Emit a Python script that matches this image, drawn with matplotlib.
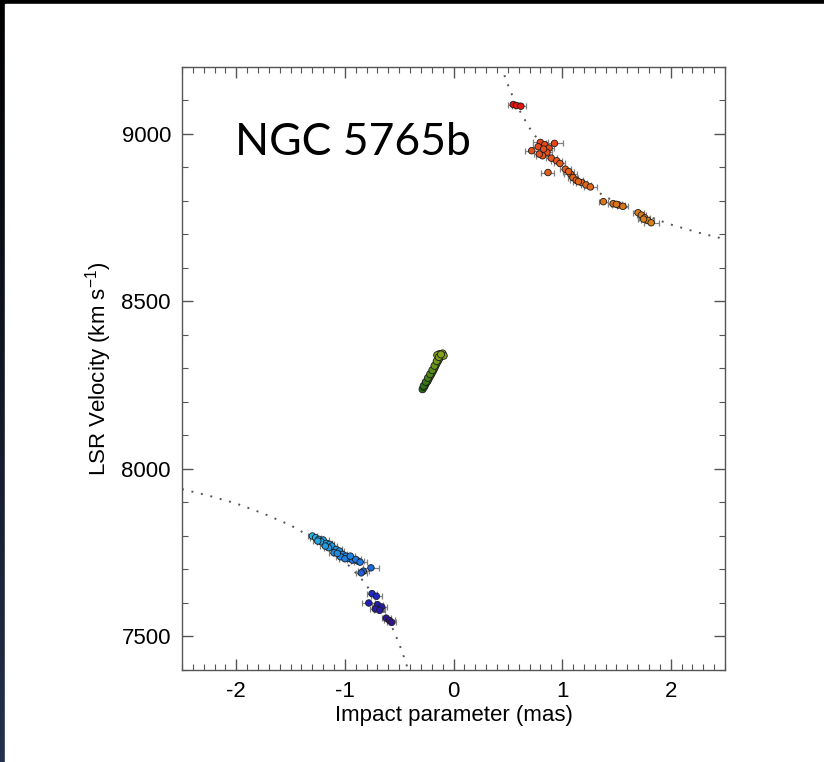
import matplotlib.pyplot as plt
import numpy as np
from matplotlib.colors import LinearSegmentedColormap, Normalize
from matplotlib.patches import Rectangle
from matplotlib.ticker import MultipleLocator

plt.rcParams['font.family'] = ['Liberation Sans', 'DejaVu Sans']
plt.rcParams['mathtext.default'] = 'regular'
plt.rcParams['axes.unicode_minus'] = False

# red-shifted high-velocity maser spots: impact parameter (mas), LSR velocity (km/s), x error (mas)
red_b = [0.55, 0.58, 0.62, 0.80, 0.84, 0.78, 0.88, 0.93, 0.72, 0.86, 0.82, 0.90, 0.95, 0.98,
         0.87, 1.03, 1.08, 1.10, 1.13, 1.18, 1.22, 1.26, 0.79, 0.83, 1.06, 1.15,
         1.38, 1.47, 1.52, 1.56, 1.70, 1.73, 1.76, 1.79, 1.82, 1.50, 1.75]
red_v = [9088, 9085, 9083, 8975, 8968, 8962, 8958, 8972, 8950, 8945, 8935, 8928, 8920, 8912,
         8885, 8895, 8880, 8870, 8862, 8855, 8848, 8842, 8940, 8955, 8888, 8858,
         8798, 8792, 8788, 8784, 8765, 8758, 8750, 8742, 8735, 8790, 8746]
red_err = [0.05, 0.04, 0.05, 0.07, 0.06, 0.05, 0.05, 0.08, 0.06, 0.05, 0.06, 0.05, 0.05, 0.05,
           0.06, 0.05, 0.06, 0.05, 0.06, 0.05, 0.05, 0.06, 0.05, 0.05, 0.05, 0.05,
           0.04, 0.05, 0.06, 0.05, 0.05, 0.04, 0.05, 0.06, 0.07, 0.05, 0.05]

# blue-shifted high-velocity maser spots
blue_b = [-1.30, -1.27, -1.24, -1.20, -1.22, -1.17, -1.14, -1.12, -1.15, -1.08, -1.05, -1.10,
          -1.02, -0.99, -1.04, -0.96, -0.93, -0.88, -0.90, -0.86, -1.25, -1.18, -1.07, -1.00, -0.95,
          -0.76, -0.83, -0.85,
          -0.75, -0.71, -0.78, -0.70, -0.66, -0.72, -0.62, -0.59, -0.57, -0.68]
blue_v = [7800, 7795, 7790, 7788, 7783, 7778, 7775, 7770, 7765, 7760, 7755, 7750,
          7745, 7740, 7738, 7733, 7728, 7725, 7730, 7722, 7785, 7770, 7748, 7732, 7740,
          7705, 7695, 7690,
          7628, 7620, 7600, 7595, 7588, 7582, 7555, 7548, 7542, 7578]
blue_err = [0.04, 0.05, 0.04, 0.05, 0.04, 0.05, 0.04, 0.05, 0.04, 0.05, 0.04, 0.05,
            0.04, 0.05, 0.04, 0.05, 0.05, 0.06, 0.05, 0.06, 0.04, 0.05, 0.04, 0.05, 0.04,
            0.07, 0.05, 0.05,
            0.05, 0.05, 0.06, 0.05, 0.05, 0.05, 0.04, 0.05, 0.04, 0.05]

# systemic maser spots
sys_b = [-0.285, -0.27, -0.26, -0.25, -0.24, -0.23, -0.22, -0.21, -0.20, -0.19, -0.18,
         -0.17, -0.16, -0.15, -0.14, -0.13, -0.12, -0.11, -0.10, -0.13, -0.15, -0.09,
         -0.275, -0.255, -0.235, -0.215, -0.195, -0.175, -0.155, -0.135, -0.115]
sys_v = [8238, 8245, 8252, 8258, 8262, 8268, 8275, 8280, 8286, 8292, 8298,
         8305, 8312, 8318, 8324, 8330, 8336, 8340, 8345, 8343, 8340, 8338,
         8248, 8260, 8272, 8283, 8295, 8308, 8322, 8334, 8342]

# dotted rotation curve
curve_left_b = [-2.5, -2.25, -2.0, -1.75, -1.5, -1.25, -1.0, -0.85, -0.75, -0.65, -0.55, -0.5, -0.45, -0.42, -0.40]
curve_left_v = [7940, 7920, 7897, 7867, 7832, 7785, 7724, 7673, 7630, 7580, 7517, 7478, 7433, 7403, 7380]
curve_right_b = [0.44, 0.47, 0.5, 0.55, 0.6, 0.7, 0.8, 0.9, 1.0, 1.25, 1.5, 1.75, 2.0, 2.25, 2.5]
curve_right_v = [9203, 9174, 9148, 9108, 9075, 9018, 8973, 8935, 8903, 8841, 8795, 8759, 8730, 8706, 8686]

vel_cmap = LinearSegmentedColormap.from_list('vel', [
    (0.00, '#3a0a7a'), (0.07, '#2020c0'), (0.13, '#1e6ee0'), (0.19, '#25b6e8'),
    (0.46, '#246c12'), (0.53, '#8aa81c'), (0.78, '#d98018'), (0.90, '#e8541a'),
    (1.00, '#e01010')])
norm = Normalize(7500, 9100)

fig = plt.figure(figsize=(8.24, 7.62), dpi=100)
fig.patch.set_facecolor('black')

# slide background: dark gradient with a white panel
bg = fig.add_axes([0, 0, 1, 1], zorder=-10)
grad = np.linspace(0, 1, 256).reshape(-1, 1)
bg.imshow(grad, aspect='auto', extent=[0, 1, 0, 1],
          cmap=LinearSegmentedColormap.from_list('bg', ['#24304c', '#000000']), origin='lower')
bg.add_patch(Rectangle((5 / 824, 0), 1, 1 - 4 / 762, color='white'))
bg.set_xlim(0, 1)
bg.set_ylim(0, 1)
bg.axis('off')

ax = fig.add_axes([182 / 824, 1 - 670 / 762, 543 / 824, 603 / 762])
ax.set_xlim(-2.5, 2.5)
ax.set_ylim(7400, 9200)

ax.plot(curve_left_b, curve_left_v, color='#555555', lw=1.4, linestyle=(0, (1, 4)), zorder=1)
ax.plot(curve_right_b, curve_right_v, color='#555555', lw=1.4, linestyle=(0, (1, 4)), zorder=1)

ax.errorbar(red_b, red_v, xerr=red_err, fmt='none', ecolor='#808080', elinewidth=0.9,
            capsize=2.5, capthick=0.9, zorder=2)
ax.errorbar(blue_b, blue_v, xerr=blue_err, fmt='none', ecolor='#808080', elinewidth=0.9,
            capsize=2.5, capthick=0.9, zorder=2)

for b, v, size in [(red_b, red_v, 22), (blue_b, blue_v, 22), (sys_b, sys_v, 26)]:
    ax.scatter(b, v, c=v, cmap=vel_cmap, norm=norm, s=size, edgecolors='#1c1c1c',
               linewidths=0.6, zorder=3)

ax.xaxis.set_major_locator(MultipleLocator(1))
ax.xaxis.set_minor_locator(MultipleLocator(0.1))
ax.yaxis.set_major_locator(MultipleLocator(500))
ax.yaxis.set_minor_locator(MultipleLocator(100))
ax.tick_params(which='both', direction='in', top=True, right=True, color='#555555',
               labelsize=16, pad=8)
ax.tick_params(which='major', length=8, width=1)
ax.tick_params(which='minor', length=4, width=0.8)
for s in ax.spines.values():
    s.set_color('#555555')
    s.set_linewidth(1)

ax.set_xlabel('Impact parameter (mas)', fontsize=16, labelpad=2)
ax.set_ylabel('LSR Velocity (km s$^{-1}$)', fontsize=16, labelpad=5)

fig.text(235 / 824, 1 - 155 / 762, 'NGC 5765b', fontsize=32, family=['Lato', 'DejaVu Sans'],
         va='baseline', ha='left', color='black')

fig.savefig('out.png', dpi=100, facecolor=fig.get_facecolor())
